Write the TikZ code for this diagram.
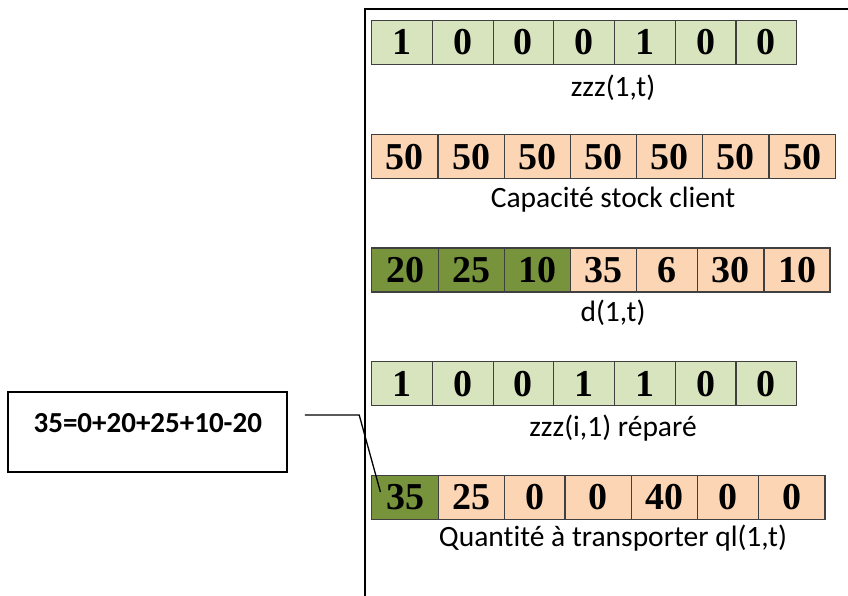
\documentclass[tikz,border=0pt]{standalone}
\usepackage{fontspec}
\setmainfont{Liberation Serif}
\newfontfamily\calibri{Carlito}
\usepackage{tikz}
\usetikzlibrary{positioning,calc}
\definecolor{vertclair}{HTML}{D7E4BD}
\definecolor{vertfonce}{HTML}{77933C}
\definecolor{orangeclair}{HTML}{FCD5B5}
\definecolor{bord}{HTML}{404040}
\tikzset{
  cellule/.style={draw=bord,line width=1.2pt,inner sep=0pt,minimum height=44,font=\bfseries\fontsize{38}{38}\selectfont},
  cellvert/.style={cellule,fill=vertclair},
  cellorange/.style={cellule,fill=orangeclair},
  cellfonce/.style={cellule,fill=vertfonce},
  legende/.style={font=\calibri\fontsize{29.5}{29.5}\selectfont,anchor=base,inner sep=0pt},
  cadre/.style={line width=2pt},
  encadre/.style={draw,line width=1.8pt,inner sep=0pt,minimum width=279,minimum height=80.6,text height=20,text depth=20,font=\calibri\bfseries\fontsize{29}{29}\selectfont},
  trait/.style={line width=1.3pt},
}

\begin{document}
\begin{tikzpicture}[x=1pt,y=-1pt]
  \useasboundingbox (0,0) rectangle (848,596);
  % cadre
  \draw[cadre] (848,9) -- (365,9) -- (365,596);
  % zzz(1,t)
  \foreach \v [count=\i] in {1,0,0,0,1,0,0}
    \node[cellvert,minimum width=60.7] (za\i) at ({371.7+60.7*(\i-0.5)},42.3) {\v};
  \node[legende] (lza) at (613,96.7) {zzz(1,t)};
  % capacite
  \foreach \v [count=\i] in {50,50,50,50,50,50,50}
    \node[cellorange,minimum width=66.2] (cap\i) at ({371.7+66.2*(\i-0.5)},156.7) {\v};
  \node[legende] (lcap) at (613,207.3) {Capacité stock client};
  % d(1,t)
  \foreach \v/\a/\b/\s [count=\i] in {20/371.7/438.3/cellfonce,25/438.3/504.3/cellfonce,10/504.3/570.7/cellfonce,35/570.7/636.7/cellorange,6/636.7/697.7/cellorange,30/697.7/764/cellorange,10/764/830/cellorange}
    \node[\s,minimum width=\b-\a] (d\i) at ({(\a+\b)/2},270) {\v};
  \node[legende] (ld) at (613,321.7) {d(1,t)};
  % zzz repare
  \foreach \v [count=\i] in {1,0,0,1,1,0,0}
    \node[cellvert,minimum width=60.7] (zb\i) at ({371.7+60.7*(\i-0.5)},383.8) {\v};
  \node[legende] (lzb) at (613,436) {zzz(i,1) réparé};
  % ql(1,t)
  \foreach \v/\a/\b/\s [count=\i] in {35/371.7/438.3/cellfonce,25/438.3/504.3/cellorange,0/504.3/565/cellorange,0/565/631.7/cellorange,40/631.7/697.7/cellorange,0/697.7/758.3/cellorange,0/758.3/825/cellorange}
    \node[\s,minimum width=\b-\a] (q\i) at ({(\a+\b)/2},497.5) {\v};
  \node[legende] (lq) at (613,546) {Quant\kern0pt ité à transporter ql(1,t)};
  % calcul
  \node[encadre] (eq) at (147.8,432) {35=0+20+25+10-20};
  \coordinate (depart) at ($(eq.east)+(16.7,-17)$);
  \coordinate (coude) at ($(eq.east)+(71,-17)$);
  \draw[trait] (depart) -- (coude) -- ($(q1.north west)+(9.3,17)$);
\end{tikzpicture}
\end{document}
